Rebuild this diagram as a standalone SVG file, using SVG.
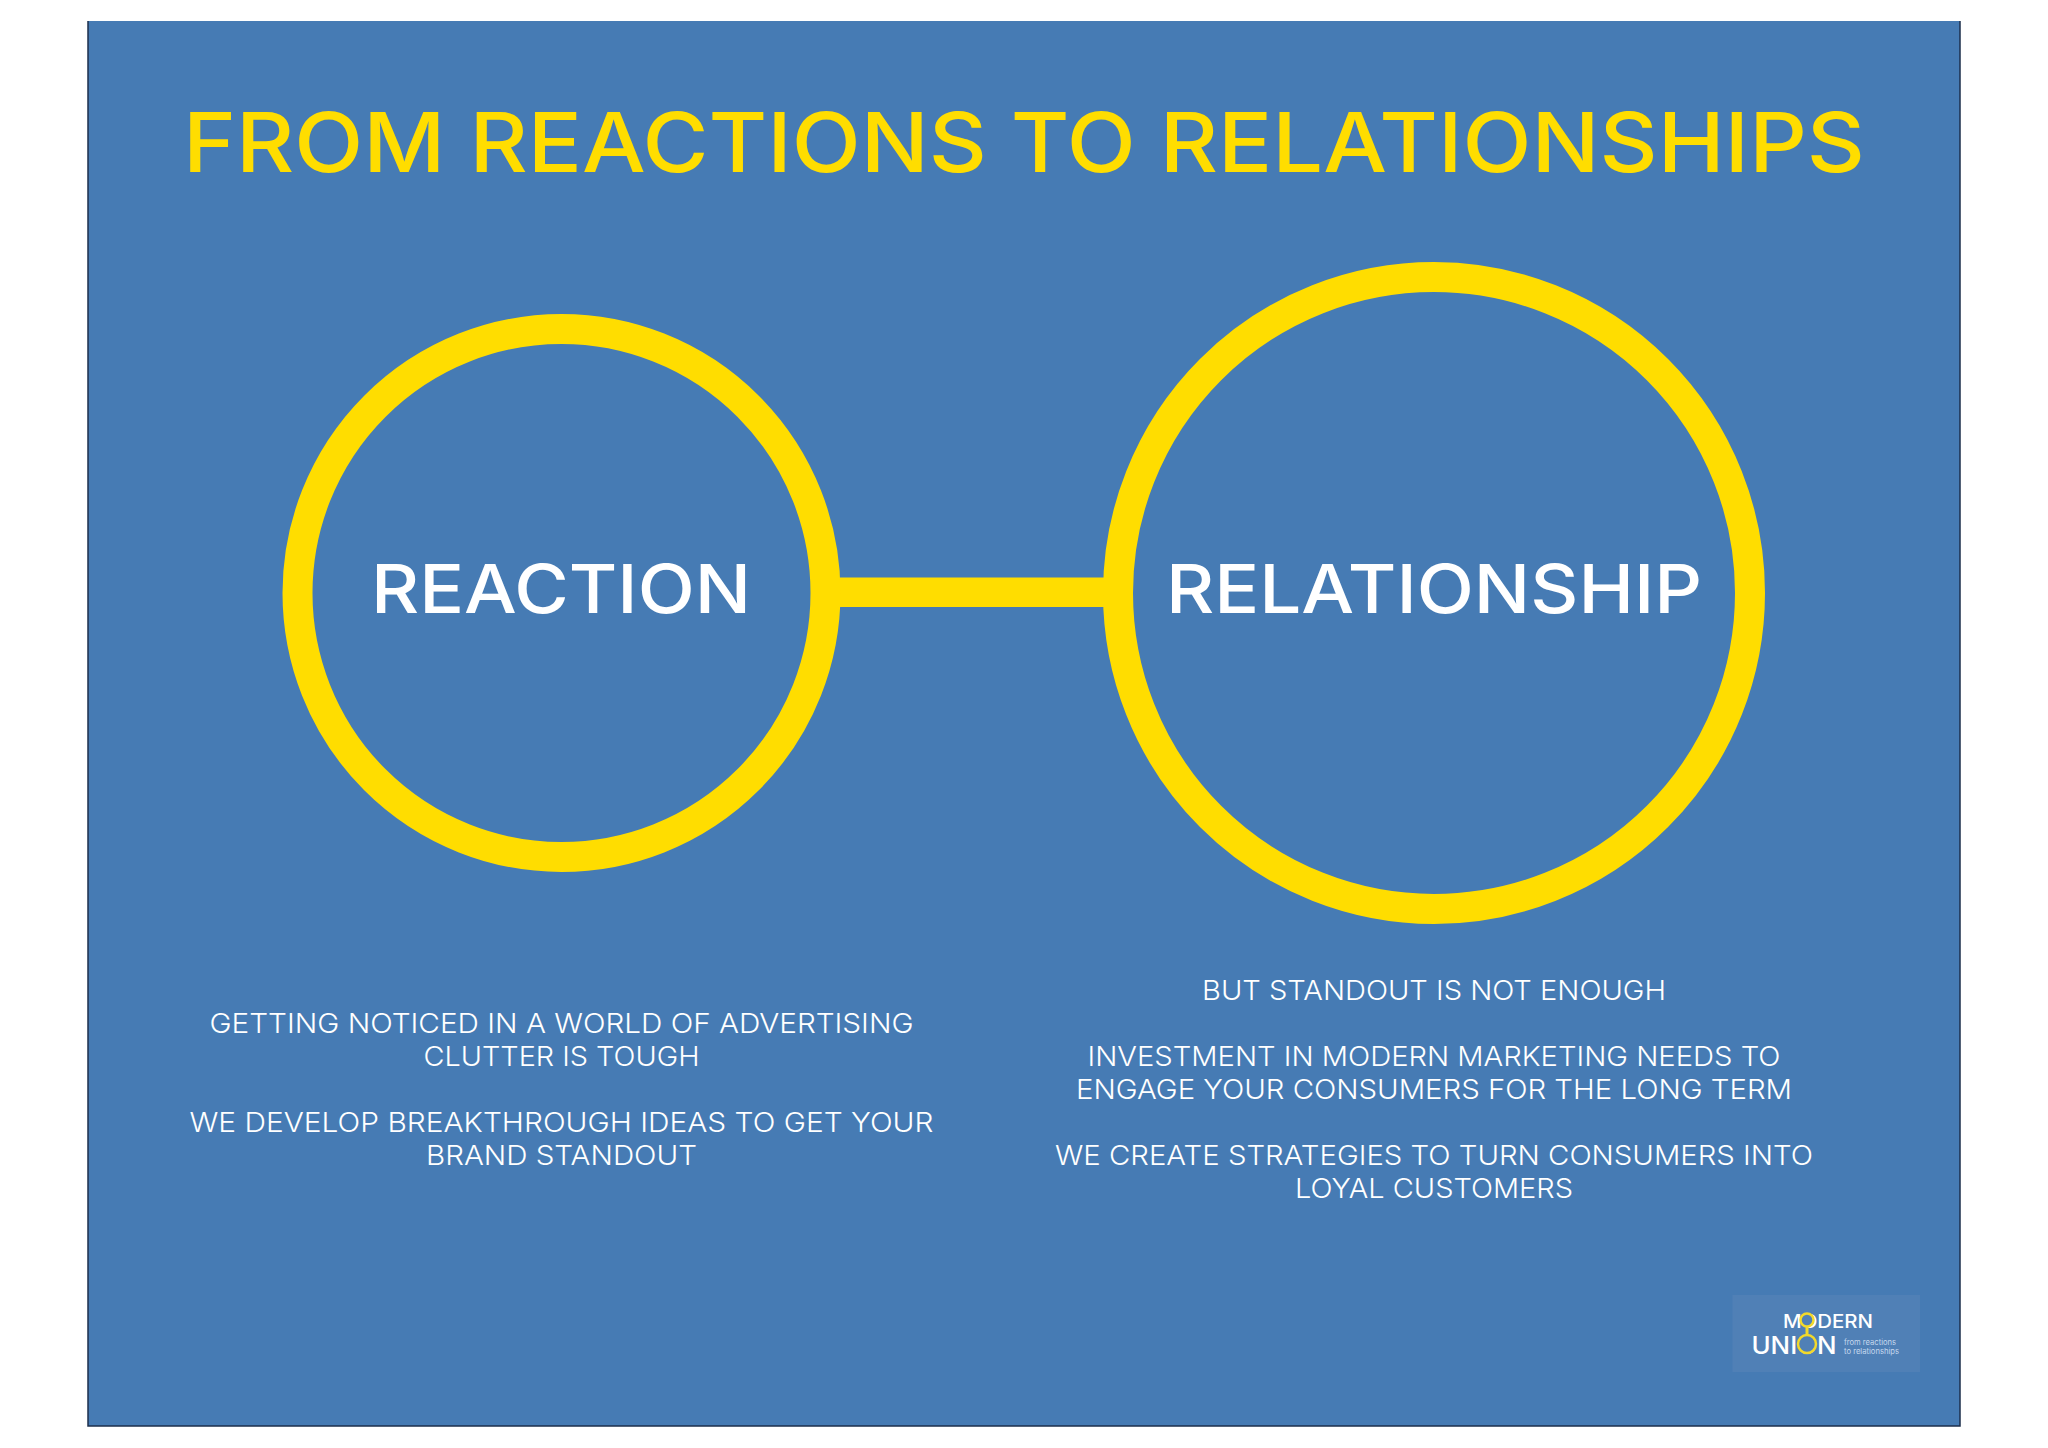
<svg xmlns="http://www.w3.org/2000/svg" width="2048" height="1448" viewBox="0 0 2048 1448">
<style>
text{font-family:Inter,"Liberation Sans",sans-serif;text-anchor:middle}
.ring{fill:none;stroke:#ffdd00;stroke-width:30}
.t{fill:#ffdd00;font-size:82.5px;font-weight:550}
.h{fill:#fff;font-size:67.5px;font-weight:550}
.b{fill:#fff;font-size:27.5px;font-weight:300}
</style>
<rect id="background" x="88" y="21" width="1872" height="1405" fill="#467bb4"/>
<path d="M88 21V1426H1960V21" fill="none" stroke="#1c2f4c" stroke-width="1.500"/>
<text id="title" class="t" x="1024" y="172" textLength="1682" lengthAdjust="spacingAndGlyphs">FROM REACTIONS TO RELATIONSHIPS</text>
<g id="connectors"><rect x="835" y="577.5" width="274" height="29.5" fill="#ffdd00"/></g>
<g id="reaction">
<circle class="ring" cx="561.5" cy="593" r="264"/>
<text class="h" x="561" y="612.500" textLength="380" lengthAdjust="spacingAndGlyphs">REACTION</text>
<text class="b" x="561.500" y="1032.500" textLength="704" lengthAdjust="spacingAndGlyphs">GETTING NOTICED IN A WORLD OF ADVERTISING</text>
<text class="b" x="561.500" y="1065.500" textLength="276" lengthAdjust="spacingAndGlyphs">CLUTTER IS TOUGH</text>
<text class="b" x="561.500" y="1131.500" textLength="744" lengthAdjust="spacingAndGlyphs">WE DEVELOP BREAKTHROUGH IDEAS TO GET YOUR</text>
<text class="b" x="561.500" y="1164.500" textLength="271" lengthAdjust="spacingAndGlyphs">BRAND STANDOUT</text>
</g>
<g id="relationship">
<circle class="ring" cx="1434" cy="593" r="316"/>
<text class="h" x="1434" y="612.500" textLength="536" lengthAdjust="spacingAndGlyphs">RELATIONSHIP</text>
<text class="b" x="1434" y="1000" textLength="464" lengthAdjust="spacingAndGlyphs">BUT STANDOUT IS NOT ENOUGH</text>
<text class="b" x="1434" y="1065.500" textLength="693" lengthAdjust="spacingAndGlyphs">INVESTMENT IN MODERN MARKETING NEEDS TO</text>
<text class="b" x="1434" y="1098.500" textLength="716" lengthAdjust="spacingAndGlyphs">ENGAGE YOUR CONSUMERS FOR THE LONG TERM</text>
<text class="b" x="1434" y="1164.500" textLength="758" lengthAdjust="spacingAndGlyphs">WE CREATE STRATEGIES TO TURN CONSUMERS INTO</text>
<text class="b" x="1434" y="1197.500" textLength="278" lengthAdjust="spacingAndGlyphs">LOYAL CUSTOMERS</text>
</g>
<g id="logo">
<rect x="1732.500" y="1295" width="187.500" height="77" fill="#5080b6"/>
<text x="1828" y="1327.500" fill="#fff" font-size="19" font-weight="500" textLength="90" lengthAdjust="spacingAndGlyphs">MODERN</text>
<text x="1794" y="1353.500" fill="#fff" font-size="24" font-weight="500" textLength="85" lengthAdjust="spacingAndGlyphs">UNION</text>
<circle cx="1807" cy="1320" r="6.500" fill="#5080b6" stroke="#f2d92a" stroke-width="2.500"/>
<circle cx="1807" cy="1344" r="9" fill="#5080b6" stroke="#f2d92a" stroke-width="2.500"/>
<path d="M1807 1326.500V1335" stroke="#f2d92a" stroke-width="3"/>
<text x="1870" y="1345" fill="#c5d8ee" font-size="7.800" textLength="52" lengthAdjust="spacingAndGlyphs">from reactions</text>
<text x="1871.500" y="1353.500" fill="#c5d8ee" font-size="7.800" textLength="55" lengthAdjust="spacingAndGlyphs">to relationships</text>
</g>
</svg>
